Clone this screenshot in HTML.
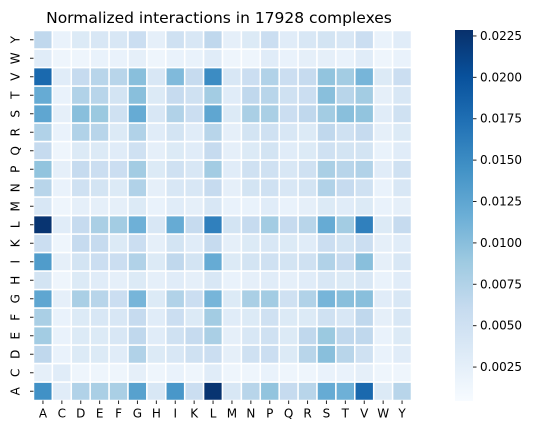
<!DOCTYPE html>
<html><head><meta charset="utf-8"><style>
body{margin:0;background:#fff;font-family:"Liberation Sans","DejaVu Sans",sans-serif}
svg text{font-family:"DejaVu Sans","Liberation Sans",sans-serif}
</style></head><body>
<svg id="chart" width="541" height="435" xmlns="http://www.w3.org/2000/svg">
<defs><linearGradient id="cb" x1="0" y1="1" x2="0" y2="0">
<stop offset="0" stop-color="#f7fbff"/><stop offset="0.125" stop-color="#deebf7"/><stop offset="0.25" stop-color="#c6dbef"/><stop offset="0.375" stop-color="#9ecae1"/><stop offset="0.5" stop-color="#6baed6"/><stop offset="0.625" stop-color="#4292c6"/><stop offset="0.75" stop-color="#2171b5"/><stop offset="0.875" stop-color="#08519c"/><stop offset="1" stop-color="#08306b"/></linearGradient></defs>
<text x="219" y="23" font-size="15.5" text-anchor="middle">Normalized interactions in 17928 complexes</text>
<g id="cells"></g><g id="xt"></g><g id="yt"></g>
<rect x="455" y="30" width="18" height="371" fill="url(#cb)"/>
<g id="cbt"></g>
</svg>
<script>
const residues=["A","C","D","E","F","G","H","I","K","L","M","N","P","Q","R","S","T","V","W","Y"];
const cbTicks=[0.0025,0.005,0.0075,0.01,0.0125,0.015,0.0175,0.02,0.0225];
const cbLabels=["0.0025","0.0050","0.0075","0.0100","0.0125","0.0150","0.0175","0.0200","0.0225"];
// rows from A (bottom) to Y (top), values x0.001
const rowA=[14.5,3,7.5,8,8,13,4,14,5.5,22.5,4,7,9.5,6,7,12,11.5,18,3.5,7];
const rowC=[2.5,3,1.5,1.5,1.5,2.5,1.5,2,1.5,3,1.5,1.5,2,1.5,1.5,2,2,2.5,1.5,1.5];
const rowD=[6.5,2,3.5,3.5,3,7.5,3.5,4,5,5.5,2.5,5,5.5,3.5,7,10,7,5,2,3];
const rowE=[8.5,2,3.5,3.5,4,6.5,3,5,6,8,2.5,4,5,3.5,6.5,9,6.5,6.5,2,3.5];
const rowF=[8,2,3.5,4,4,6,3,5.5,3.5,8.5,3,3.5,5,3.5,3.5,5,4,6.5,2.5,4];
const rowG=[12.5,2.5,8,7,5.5,11,3.5,7.5,5.5,11,3.5,8,8.5,5,7.5,11,10,10,3,4];
const rowH=[4.5,1.5,3.5,3,2.5,3.5,2.5,3,2.5,4,2,2.5,3,2.5,3,4,3.5,4,2,3];
const rowI=[13.5,2.5,4.5,5.5,5.5,7.5,3.5,6.5,4.5,12,3.5,4.5,5,4.5,5,7.5,6,10,2.5,4];
const rowK=[5.5,1.5,6,6,3.5,5.5,2.5,4.5,3,6,2.5,3.5,4,3.5,3,5.5,4.5,5.5,2.5,3];
const rowL=[22.5,3,6,8,8.5,11.5,4,12,6,16,4.5,6,8.5,6,7,12,8.5,16,3.5,6];
const rowM=[4,1.5,2.5,2.5,2.5,3.5,2,3,2.5,4,2,2,3,2,2.5,3.5,3,3.5,2,2.5];
const rowN=[7,2,5,4.5,3.5,7.5,2.5,4,4,6,2.5,4.5,5,4,4.5,7.5,6,5,2,4];
const rowP=[9.5,2.5,6,5.5,5.5,8.5,3.5,5,4,8.5,3,5,5,4,5,8,7,7.5,3,5];
const rowQ=[6,1.5,3.5,3.5,3,5,2.5,3.5,3,6,2.5,3.5,4.5,3,3.5,5,4.5,4.5,2,3];
const rowR=[7.5,2,7.5,7,3.5,7.5,3,4.5,3,7,2.5,4.5,5,4,3.5,6.5,5,6,2.5,3.5];
const rowS=[12.5,2.5,10,9,5,12,4,7.5,5.5,12.5,3.5,8,8,5.5,6.5,8.5,10,9.5,3,5];
const rowT=[12,2,7.5,7,4.5,10,3.5,6,5,8.5,3,6.5,7,5,5.5,10,7,8.5,2.5,4];
const rowV=[18,3,6,7,7,10,4,10.5,6,15,4,5.5,7.5,5.5,6,9.5,8.5,11,3.5,5.5];
const rowW=[3,1.5,1.5,2,2,2.5,1.5,2,2,3,1.5,1.5,3,2,2.5,2.5,2,3,1.5,2];
const rowY=[6.5,2,3.5,4,4,5.5,2.5,5,4,6.5,2.5,3.5,5.5,3,4,4.5,4,5.5,2,3];
const rows=[rowA,rowC,rowD,rowE,rowF,rowG,rowH,rowI,rowK,rowL,rowM,rowN,rowP,rowQ,rowR,rowS,rowT,rowV,rowW,rowY];
const vmin=0.00045,vmax=0.02286;
const L=33.5,R=411.5,T=30.5,B=400.5;
const cw=(R-L)/20,ch=(B-T)/20;
const xS=i=>L+i*cw, yS=j=>B-(j+1)*ch;
const stops=["#f7fbff","#deebf7","#c6dbef","#9ecae1","#6baed6","#4292c6","#2171b5","#08519c","#08306b"].map(h=>[1,3,5].map(k=>parseInt(h.substr(k,2),16)));
function col(v){let t=(v-vmin)/(vmax-vmin);t=Math.max(0,Math.min(1,t))*8;let i=Math.min(7,Math.floor(t)),f=t-i;
const c=stops[i].map((a,k)=>Math.round(a+(stops[i+1][k]-a)*f));return `rgb(${c})`;}
const NS="http://www.w3.org/2000/svg";
const g=document.getElementById('cells');
rows.forEach((row,j)=>row.forEach((v,i)=>{
 const r=document.createElementNS(NS,'rect');
 
 
 r.setAttribute('x',xS(i));r.setAttribute('y',yS(j));r.setAttribute('width',cw);r.setAttribute('height',ch);
 r.setAttribute('fill',col(v/1000));r.setAttribute('stroke','#fff');r.setAttribute('stroke-width','1.5');
 g.appendChild(r);}));
const xt=document.getElementById('xt'),yt=document.getElementById('yt');
residues.forEach((a,i)=>{
 const x=xS(i)+cw/2;
 const l=document.createElementNS(NS,'line');
 
 
 l.setAttribute('x1',x);l.setAttribute('x2',x);l.setAttribute('y1',B);l.setAttribute('y2',B+3.5);l.setAttribute('stroke','#222');xt.appendChild(l);
 const t=document.createElementNS(NS,'text');
 
 
 t.setAttribute('x',x);t.setAttribute('y',B+17);t.setAttribute('font-size','12');t.setAttribute('text-anchor','middle');t.textContent=a;xt.appendChild(t);
 const y=yS(i)+ch/2;
 const l2=document.createElementNS(NS,'line');
 
 
 l2.setAttribute('x1',L-3.5);l2.setAttribute('x2',L);l2.setAttribute('y1',y);l2.setAttribute('y2',y);l2.setAttribute('stroke','#222');yt.appendChild(l2);
 const t2=document.createElementNS(NS,'text');
 
 
 t2.setAttribute('x',L-18);t2.setAttribute('y',y);t2.setAttribute('font-size','12');t2.setAttribute('text-anchor','middle');t2.setAttribute('dominant-baseline','central');
 t2.setAttribute('transform',`rotate(-90 ${L-18} ${y})`);t2.textContent=a;yt.appendChild(t2);
});
const cbt=document.getElementById('cbt');
cbTicks.forEach((v,k)=>{
 const y=401-(v-vmin)/(vmax-vmin)*371;
 const l=document.createElementNS(NS,'line');
 
 
 l.setAttribute('x1',473);l.setAttribute('x2',476.5);l.setAttribute('y1',y);l.setAttribute('y2',y);l.setAttribute('stroke','#222');cbt.appendChild(l);
 const t=document.createElementNS(NS,'text');
 
 
 t.setAttribute('x',480);t.setAttribute('y',y+4);t.setAttribute('font-size','12');t.textContent=cbLabels[k];cbt.appendChild(t);
});
</script>
</body></html>
